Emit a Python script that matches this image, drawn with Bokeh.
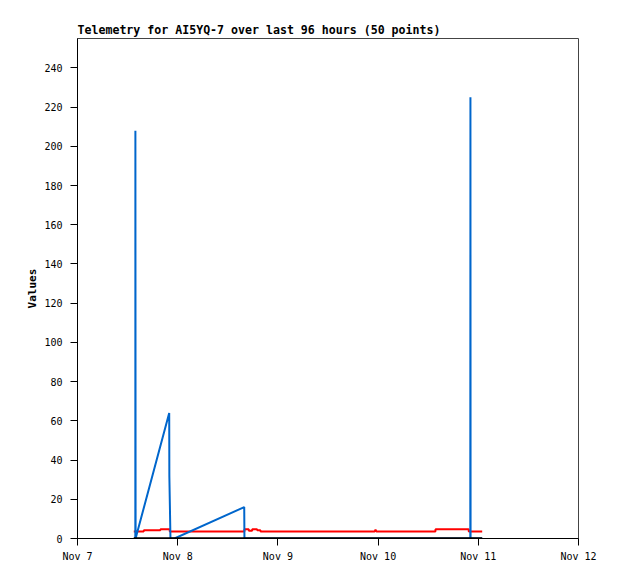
import pandas as pd
from bokeh.plotting import figure
from bokeh.models import Range1d, FixedTicker, CustomJSTickFormatter
from bokeh.embed import file_html
from bokeh.resources import INLINE

# ---- data ----
blue_times = ["2024-11-07 13:29", "2024-11-07 13:51", "2024-11-07 13:52", "2024-11-07 13:55",
              "2024-11-07 21:58", "2024-11-07 22:00", "2024-11-07 22:16", "2024-11-07 23:14",
              "2024-11-08 15:56", "2024-11-08 15:59", "2024-11-10 22:05", "2024-11-10 22:07",
              "2024-11-10 22:09", "2024-11-11 00:56"]
blue_values = [0, 0, 208, 0, 64, 32, 0, 0, 16, 0, 0, 225, 0, 0]

red_times = ["2024-11-07 13:29", "2024-11-07 15:52", "2024-11-07 15:53", "2024-11-07 19:51",
             "2024-11-07 19:52", "2024-11-07 22:05", "2024-11-07 22:06", "2024-11-08 15:59",
             "2024-11-08 16:00", "2024-11-08 17:01", "2024-11-08 17:02", "2024-11-08 17:50",
             "2024-11-08 17:51", "2024-11-08 19:01", "2024-11-08 19:02", "2024-11-08 19:49",
             "2024-11-08 19:50", "2024-11-08 21:02", "2024-11-09 23:10", "2024-11-09 23:23",
             "2024-11-09 23:36", "2024-11-10 13:44", "2024-11-10 13:45", "2024-11-10 21:42",
             "2024-11-10 21:43", "2024-11-11 00:56"]
red_values = [3.6, 3.6, 4.2, 4.2, 4.7, 4.7, 3.6, 3.6, 4.7, 4.7, 4.0, 4.0, 4.7, 4.7,
              4.2, 4.2, 3.6, 3.6, 3.6, 4.5, 3.6, 3.6, 4.7, 4.7, 3.6, 3.6]

black_times = ["2024-11-07 13:29", "2024-11-11 00:56"]
black_values = [0, 0]

x_tick_dates = ["2024-11-07", "2024-11-08", "2024-11-09", "2024-11-10", "2024-11-11", "2024-11-12"]
x_tick_labels = ["Nov 7", "Nov 8", "Nov 9", "Nov 10", "Nov 11", "Nov 12"]
y_ticks = [0, 20, 40, 60, 80, 100, 120, 140, 160, 180, 200, 220, 240]

title_text = "Telemetry for AI5YQ-7 over last 96 hours (50 points)"


def to_ms(ts):
    return [pd.Timestamp(t).value / 1e6 for t in ts]


tick_ms = to_ms(x_tick_dates)

p = figure(width=608, height=571, x_axis_type="datetime",
           output_backend="svg", toolbar_location=None,
           x_range=Range1d(tick_ms[0], tick_ms[-1]), y_range=Range1d(0, 255),
           min_border_left=77, min_border_right=30, min_border_top=38, min_border_bottom=33,
           title=title_text)

p.title.text_font = "DejaVu Sans Mono"
p.title.text_font_size = "11.6px"
p.title.text_font_style = "bold"
p.title.text_color = "black"
p.title.align = "left"
p.title.offset = 0
p.title.standoff = 3

p.background_fill_color = "white"
p.border_fill_color = "white"
p.outline_line_color = "#444444"
p.outline_line_width = 1
p.grid.visible = False

p.line(to_ms(red_times), red_values, line_color="#ff0000", line_width=2)
p.line(to_ms(blue_times), blue_values, line_color="#0066cc", line_width=2)
p.line(to_ms(black_times), black_values, line_color="black", line_width=2.5)

p.xaxis.ticker = FixedTicker(ticks=tick_ms)
p.xaxis.formatter = CustomJSTickFormatter(
    args=dict(tick_values=tick_ms, tick_labels=x_tick_labels),
    code="""
    let best = 0; let bd = Infinity;
    for (let i = 0; i < tick_values.length; i++) {
        const d = Math.abs(tick_values[i] - tick);
        if (d < bd) { bd = d; best = i; }
    }
    return tick_labels[best];
    """)
p.yaxis.ticker = FixedTicker(ticks=y_ticks)

for ax in (p.xaxis[0], p.yaxis[0]):
    ax.axis_line_color = "black"
    ax.axis_line_width = 1
    ax.major_tick_line_color = "black"
    ax.major_tick_out = 7
    ax.major_tick_in = 0
    ax.minor_tick_line_color = None
    ax.major_label_text_font = "DejaVu Sans Mono"
    ax.major_label_text_font_size = "10px"
    ax.major_label_text_color = "black"

p.xaxis.major_label_standoff = 5
p.yaxis.major_label_standoff = 8
p.yaxis.axis_label = "Values"
p.yaxis.axis_label_text_font = "DejaVu Sans Mono"
p.yaxis.axis_label_text_font_size = "11px"
p.yaxis.axis_label_text_font_style = "bold"
p.yaxis.axis_label_text_color = "black"
p.yaxis.axis_label_standoff = 2

open("out.html", "w").write(file_html(p, INLINE))
